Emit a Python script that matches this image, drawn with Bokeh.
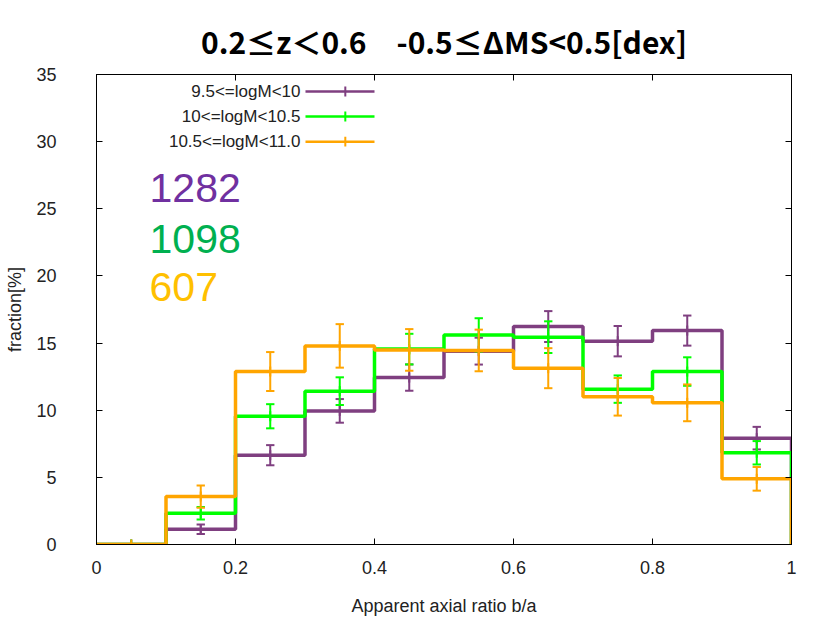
import numpy as np
from bokeh.plotting import figure
from bokeh.models import LinearAxis, FixedTicker, NumeralTickFormatter, Range1d, CustomJSTickFormatter
from bokeh.embed import file_html
from bokeh.resources import INLINE
from bokeh.core.properties import value

# ---------------- data ----------------
bin_edges = [0.0, 0.1, 0.2, 0.3, 0.4, 0.5, 0.6, 0.7, 0.8, 0.9, 1.0]
bin_centers = [0.05, 0.15, 0.25, 0.35, 0.45, 0.55, 0.65, 0.75, 0.85, 0.95]

title_text = "0.2≤z＜0.6　-0.5≤ΔMS<0.5[dex]"
series_labels = ["9.5<=logM<10", "10<=logM<10.5", "10.5<=logM<11.0"]
sample_counts = ["1282", "1098", "607"]

frac_low = [0, 1.14, 6.65, 9.95, 12.43, 14.40, 16.23, 15.14, 15.93, 7.92]
err_low = [0, 0.35, 0.75, 0.88, 0.98, 1.00, 1.15, 1.13, 1.12, 0.84]

frac_mid = [0, 2.33, 9.55, 11.42, 14.55, 15.61, 15.44, 11.57, 12.88, 6.83]
err_mid = [0, 0.47, 0.90, 1.03, 1.14, 1.24, 1.18, 1.02, 1.06, 0.87]

frac_high = [0, 3.57, 12.88, 14.79, 14.49, 14.45, 13.13, 11.00, 10.55, 4.89]
err_high = [0, 0.83, 1.45, 1.62, 1.55, 1.55, 1.49, 1.40, 1.37, 0.88]

x_ticks = [0, 0.2, 0.4, 0.6, 0.8, 1.0]
y_ticks = [0, 5, 10, 15, 20, 25, 30, 35]

# ---------------- style ----------------
line_colors = ["#7f3f80", "#00ff00", "#ffa500"]
count_colors = ["#7030a0", "#00b050", "#ffc000"]
FONT = "Liberation Sans"
TXT = "#222222"

p = figure(width=814, height=621, x_range=Range1d(0, 1), y_range=Range1d(0, 35),
           output_backend="svg", toolbar_location=None,
           min_border_left=96, min_border_right=23, min_border_top=74, min_border_bottom=77,
           title=title_text)
p.title.align = "center"
p.title.vertical_align = "top"
p.title.text_font = "Noto Sans CJK JP"
p.title.text_font_size = "30px"
p.title.text_font_style = "bold"
p.title.text_color = "#000000"
p.title.standoff = 20

p.xgrid.visible = False
p.ygrid.visible = False
p.outline_line_color = "black"
p.outline_line_width = 1
p.background_fill_color = "white"
p.border_fill_color = "white"

def style_axis(ax, ticks, labels=True):
    ax.ticker = FixedTicker(ticks=ticks)
    ax.major_tick_in = 6
    ax.major_tick_out = 0
    ax.minor_tick_in = 0
    ax.minor_tick_out = 0
    ax.axis_line_color = "black"
    ax.major_tick_line_color = "black"
    ax.major_label_text_font = FONT
    ax.major_label_text_font_size = "18px"
    ax.major_label_text_color = TXT
    ax.axis_label_text_font = FONT
    ax.axis_label_text_font_size = "18px"
    ax.axis_label_text_font_style = "normal"
    ax.axis_label_text_color = TXT
    if not labels:
        ax.formatter = CustomJSTickFormatter(code="return ''")
        ax.major_label_standoff = 0

xa = p.xaxis[0]
style_axis(xa, x_ticks)
xa.formatter = NumeralTickFormatter(format="0.[0]")
xa.axis_label = "Apparent axial ratio b/a"
xa.major_label_standoff = 16
xa.axis_label_standoff = 19

ya = p.yaxis[0]
style_axis(ya, y_ticks)
ya.axis_label = "fraction[%]"
ya.major_label_standoff = 40
ya.axis_label_standoff = 8

top = LinearAxis()
style_axis(top, x_ticks, labels=False)
p.add_layout(top, "above")
right = LinearAxis()
style_axis(right, y_ticks, labels=False)
p.add_layout(right, "right")

# ---------------- histograms ----------------
all_fracs = [frac_low, frac_mid, frac_high]
all_errs = [err_low, err_mid, err_high]
cap = 0.006
for frac, err, col in zip(all_fracs, all_errs, line_colors):
    ys = list(frac) + [0]
    p.step(bin_edges, ys, mode="after", line_color=col, line_width=3.5)
    lo = [f - e for f, e in zip(frac, err)]
    hi = [f + e for f, e in zip(frac, err)]
    p.segment(x0=bin_centers, y0=lo, x1=bin_centers, y1=hi, line_color=col, line_width=2)
    p.segment(x0=[c - cap for c in bin_centers], y0=lo, x1=[c + cap for c in bin_centers], y1=lo,
              line_color=col, line_width=2)
    p.segment(x0=[c - cap for c in bin_centers], y0=hi, x1=[c + cap for c in bin_centers], y1=hi,
              line_color=col, line_width=2)
    p.scatter(bin_centers, frac, marker="dash", angle=np.pi / 2, size=10,
              line_color=col, line_width=2)

# ---------------- legend (label left, sample right) ----------------
leg_y = [33.73, 31.87, 30.0]
p.text(x=[0.2935] * 3, y=leg_y, text=series_labels, text_align="right", text_baseline="middle",
       text_font=value(FONT), text_font_size="17px", text_color=TXT)
for yy, col in zip(leg_y, line_colors):
    p.segment(x0=[0.3007], y0=[yy], x1=[0.40], y1=[yy], line_color=col, line_width=2.5)
    p.segment(x0=[0.358], y0=[yy - 0.37], x1=[0.358], y1=[yy + 0.37], line_color=col, line_width=2)

# ---------------- sample counts ----------------
p.text(x=[0.0763] * 3, y=[26.54, 22.78, 19.21], text=sample_counts, text_color=count_colors,
       text_align="left", text_baseline="middle",
       text_font=value(FONT), text_font_size="41px")

open("out.html", "w").write(file_html(p, INLINE))
